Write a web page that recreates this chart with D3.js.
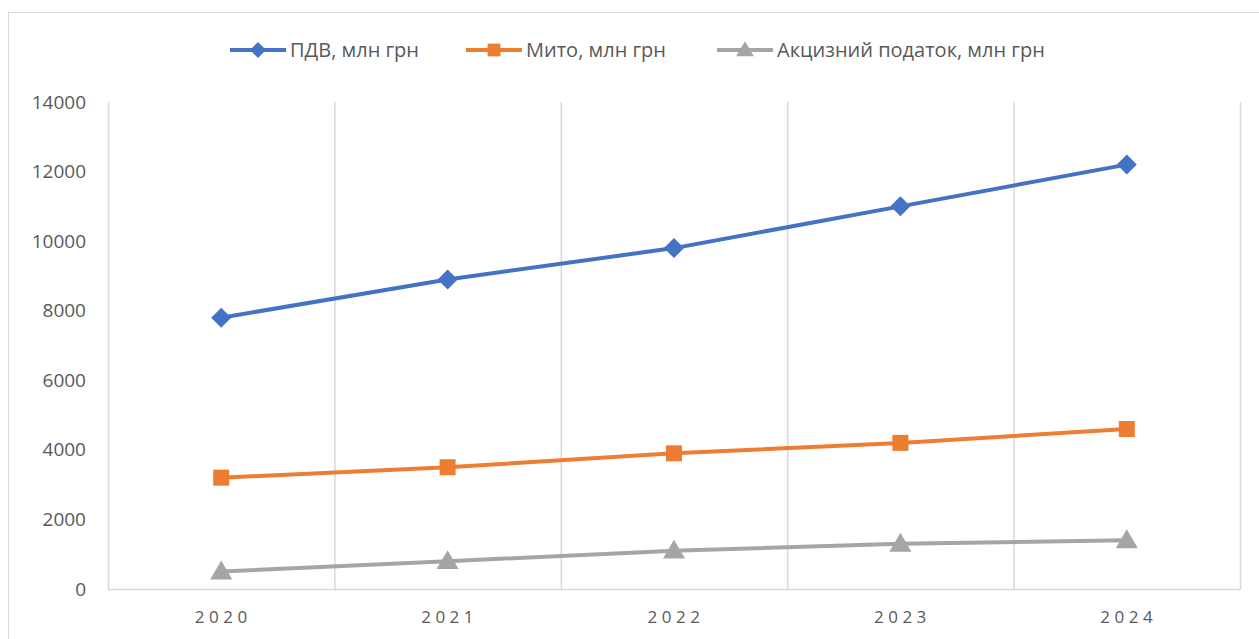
<!DOCTYPE html>
<html>
<head>
<meta charset="utf-8">
<script src="https://cdn.jsdelivr.net/npm/d3@7"></script>
<style>
  body { margin: 0; background: #fff; }
  svg { display: block; font-family: "Open Sans", "Noto Sans", sans-serif; }
</style>
</head>
<body>
<svg class="chart" width="1259" height="639"></svg>
<script>
// data
const years = ["2020", "2021", "2022", "2023", "2024"]
const vat = [7800, 8900, 9800, 11000, 12200]
const duty = [3200, 3500, 3900, 4200, 4600]
const excise = [500, 800, 1100, 1300, 1400]
const yTicks = [0, 2000, 4000, 6000, 8000, 10000, 12000, 14000]

const seriesNames = ["ПДВ, млн грн", "Мито, млн грн", "Акцизний податок, млн грн"]
const seriesColors = ["#4472c4", "#ed7d31", "#a5a5a5"]

// square diamond (rotated square), square, wide triangle
const diamond = r => `M0,${-r}L${r},0L0,${r}L${-r},0Z`
const square = r => `M${-r},${-r}H${r}V${r}H${-r}Z`
const triangle = r => `M0,${-r * 1.05}L${r * 1.05},${r * 0.75}L${-r * 1.05},${r * 0.75}Z`
const seriesShapes = [diamond, square, triangle]
const markerR = [10, 8, 10.5]

const series = [vat, duty, excise].map((values, i) => {
    return {name: seriesNames[i], color: seriesColors[i], shape: seriesShapes[i], r: markerR[i], values: values}
})

const svg = d3.select("svg.chart")

// outer chart border
svg.append("rect")
    .attr("x", 8.5)
    .attr("y", 12.5)
    .attr("width", 1270)
    .attr("height", 650)
    .attr("fill", "none")
    .attr("stroke", "#d9d9d9")
    .attr("stroke-width", 1)

const plotLeft = 108, plotRight = 1240, plotTop = 102, plotBottom = 589

const scaleX = d3.scaleBand()
    .domain(years)
    .range([plotLeft, plotRight])

const scaleY = d3.scaleLinear()
    .domain([0, 14000])
    .range([plotBottom, plotTop])

// vertical gridlines at band edges
const edges = years.map(y => scaleX(y)).concat([plotRight])
svg.append("g")
    .selectAll("line")
    .data(edges)
    .enter().append("line")
    .attr("x1", d => d + 0.5)
    .attr("x2", d => d + 0.5)
    .attr("y1", plotTop)
    .attr("y2", plotBottom)
    .attr("stroke", "#d9d9d9")
    .attr("stroke-width", 1.5)

// x axis line
svg.append("line")
    .attr("x1", plotLeft)
    .attr("x2", plotRight + 1)
    .attr("y1", plotBottom + 0.5)
    .attr("y2", plotBottom + 0.5)
    .attr("stroke", "#d9d9d9")
    .attr("stroke-width", 1.5)

// y axis labels (no ticks)
const axisY = d3.axisLeft(scaleY)
    .tickValues(yTicks)
    .tickFormat(d3.format("d"))
    .tickSize(0)
    .tickPadding(22)
const axisYGroup = svg.append("g")
    .attr("transform", `translate(${plotLeft}, 0)`)
    .call(axisY)
axisYGroup.select(".domain").remove()
axisYGroup.selectAll(".tick text")
    .attr("fill", "#595959")
    .style("font-size", "19px")
    .style("font-family", "'Open Sans', sans-serif")

// x axis labels
const axisX = d3.axisBottom(scaleX)
    .tickSize(0)
    .tickPadding(22)
const axisXGroup = svg.append("g")
    .attr("transform", `translate(0, ${plotBottom})`)
    .call(axisX)
axisXGroup.select(".domain").remove()
axisXGroup.selectAll(".tick text")
    .attr("fill", "#595959")
    .attr("dx", "2px")
    .style("font-size", "17px")
    .style("letter-spacing", "4.5px")
    .style("font-family", "'Open Sans', sans-serif")

// lines + markers
const line = d3.line()
    .x((d, i) => scaleX(years[i]) + scaleX.bandwidth() / 2)
    .y(d => scaleY(d))

const groups = svg.selectAll("g.series")
    .data(series)
    .enter().append("g")
    .attr("class", "series")

groups.append("path")
    .attr("d", d => line(d.values))
    .attr("fill", "none")
    .attr("stroke", d => d.color)
    .attr("stroke-width", 4)
    .attr("stroke-linejoin", "round")

groups.each(function(s) {
    d3.select(this).selectAll("path.marker")
        .data(s.values)
        .enter().append("path")
        .attr("class", "marker")
        .attr("transform", (d, i) => `translate(${scaleX(years[i]) + scaleX.bandwidth() / 2}, ${scaleY(d)})`)
        .attr("d", s.shape(s.r))
        .attr("fill", s.color)
})

// legend
const legendX = [230, 466, 717]
const legend = svg.selectAll("g.legend")
    .data(series)
    .enter().append("g")
    .attr("class", "legend")
    .attr("transform", (d, i) => `translate(${legendX[i]}, 50)`)

legend.append("line")
    .attr("x1", 0)
    .attr("x2", 56)
    .attr("y1", 0)
    .attr("y2", 0)
    .attr("stroke", d => d.color)
    .attr("stroke-width", 4)

legend.append("path")
    .attr("transform", "translate(28, 0)")
    .attr("d", d => d.shape(d.r * 0.8))
    .attr("fill", d => d.color)

legend.append("text")
    .attr("x", 60)
    .attr("y", 0)
    .attr("dy", "0.35em")
    .attr("fill", "#595959")
    .style("font-size", "20px")
    .style("font-family", "'Open Sans', sans-serif")
    .text(d => d.name)
</script>
</body>
</html>
